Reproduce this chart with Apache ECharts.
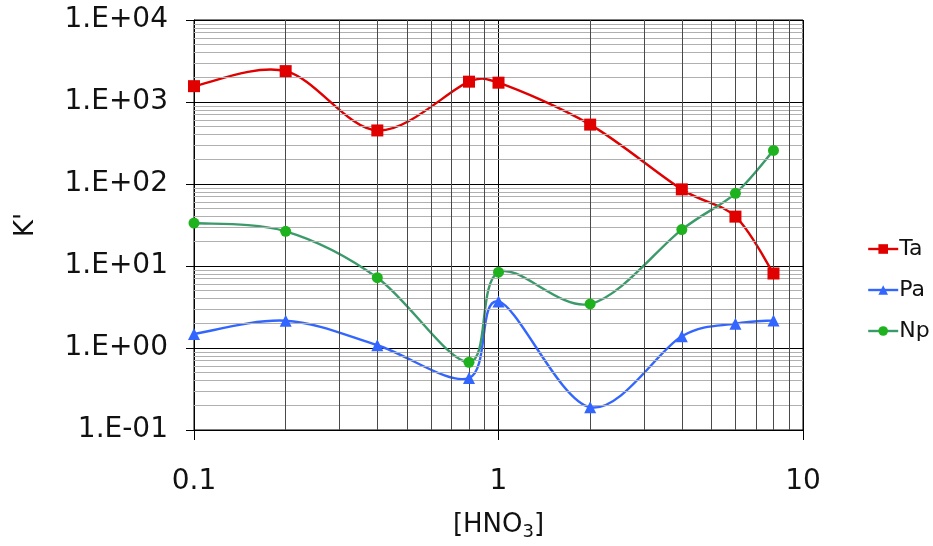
<!DOCTYPE html>
<html>
<head>
<meta charset="utf-8">
<script src="https://cdn.jsdelivr.net/npm/echarts@6/dist/echarts.min.js"></script>
<style>
  html, body { margin: 0; padding: 0; background: #fff; }
  #chart { width: 933px; height: 546px; }
</style>
</head>
<body>
<div id="chart"></div>
<script>
// Nitric acid concentration (x) and distribution ratio K' (y) per element
const hno3 = [0.1, 0.2, 0.4, 0.8, 1, 2, 4, 6, 8];
const ta = [1560, 2380, 450, 1770, 1720, 530, 86, 40, 8.1];
const pa = [1.48, 2.15, 1.08, 0.43, 3.7, 0.19, 1.39, 1.98, 2.17];
const np = [33.4, 26.5, 7.2, 0.67, 8.4, 3.45, 27.8, 77, 257];

const seriesNames = ['Ta', 'Pa', 'Np'];
const xRange = [0.1, 10];
const yRange = [0.1, 10000];

const FONT = 'DejaVu Sans';
const COLORS = {
  Ta: { line: '#e00000', mark: '#e00000', symbol: 'rect', size: 12 },
  Pa: { line: '#3366ff', mark: '#3366ff', symbol: 'triangle', size: 12 },
  Np: { line: '#3a9a6a', mark: '#1fb21f', symbol: 'circle', size: 11 }
};
const LINE_W = 2.4;

// Intermediate log-grid positions (2..9 within each decade)
function minorSteps(lo, hi) {
  const out = [];
  for (let d = lo; d < hi - 1e-12; d *= 10) {
    for (let k = 2; k <= 9; k++) out.push(+(d * k).toPrecision(6));
  }
  return out;
}
const xMinor = minorSteps(xRange[0], xRange[1]);
const yMinor = minorSteps(yRange[0], yRange[1]);

function pairs(ys) { return hno3.map((x, i) => [x, ys[i]]); }

function sciLabel(v) {
  const e = Math.round(Math.log10(v));
  const s = e < 0 ? '-' : '+';
  const a = Math.abs(e);
  return '1.E' + s + (a < 10 ? '0' + a : a);
}

// Limit a control handle to a fraction of the segment chord
function limitHandle(t, chord) {
  const len = Math.hypot(t[0], t[1]);
  const maxLen = 0.45 * chord;
  if (len > maxLen && len > 0) {
    const k = maxLen / len;
    return [t[0] * k, t[1] * k];
  }
  return t;
}

// Smoothed connecting curve: cardinal cubic segments in screen space,
// each segment i -> i+1 computed from the axis-mapped neighbouring points.
function curveSeries(name, ys) {
  const n = hno3.length;
  const color = COLORS[name].line;
  return {
    name: name + ' curve',
    type: 'custom',
    z: 4,
    silent: true,
    data: pairs(ys),
    encode: { x: 0, y: 1 },
    renderItem: function (params, api) {
      const i = params.dataIndex;
      if (i >= n - 1) return null;
      const P = j => {
        const k = Math.max(0, Math.min(n - 1, j));
        return api.coord([hno3[k], ys[k]]);
      };
      const p0 = P(i - 1), p1 = P(i), p2 = P(i + 1), p3 = P(i + 2);
      const chord = Math.hypot(p2[0] - p1[0], p2[1] - p1[1]);
      const t1 = limitHandle([(p2[0] - p0[0]) / 6, (p2[1] - p0[1]) / 6], chord);
      const t2 = limitHandle([(p3[0] - p1[0]) / 6, (p3[1] - p1[1]) / 6], chord);
      return {
        type: 'bezierCurve',
        shape: {
          x1: p1[0], y1: p1[1], x2: p2[0], y2: p2[1],
          cpx1: p1[0] + t1[0], cpy1: p1[1] + t1[1],
          cpx2: p2[0] - t2[0], cpy2: p2[1] - t2[1]
        },
        style: { stroke: color, lineWidth: LINE_W, fill: null, lineCap: 'round' }
      };
    }
  };
}

function markerSeries(name, ys) {
  const c = COLORS[name];
  return {
    name: name, type: 'line', z: 6,
    data: pairs(ys),
    symbol: c.symbol, symbolSize: c.size,
    itemStyle: { color: c.mark },
    lineStyle: { color: c.line, width: LINE_W, opacity: 0 }
  };
}

const chart = echarts.init(document.getElementById('chart'), null, { renderer: 'canvas' });

chart.setOption({
  animation: false,
  backgroundColor: '#fff',
  textStyle: { fontFamily: FONT, color: '#111' },
  grid: {
    left: 194, right: 130, top: 20, bottom: 112,
    show: true, borderColor: '#000', borderWidth: 1, backgroundColor: 'transparent'
  },
  legend: {
    data: seriesNames.map(nm => ({
      name: nm,
      lineStyle: { color: COLORS[nm].line, width: LINE_W, opacity: 1 }
    })),
    orient: 'vertical',
    left: 862, top: 233,
    itemWidth: 30, itemHeight: 12, itemGap: 19,
    textStyle: { fontFamily: FONT, fontSize: 22, color: '#111', padding: [0, 0, 0, -4] }
  },
  xAxis: {
    type: 'log', logBase: 10, min: xRange[0], max: xRange[1],
    name: '[HNO{sub|3}]',
    nameLocation: 'middle', nameGap: 79,
    nameTextStyle: {
      fontFamily: FONT, fontSize: 26, color: '#111',
      rich: { sub: { fontFamily: FONT, fontSize: 18, color: '#111', padding: [14, 0, 0, 0] } }
    },
    axisLine: { show: true, lineStyle: { color: '#000', width: 1 } },
    axisTick: { show: true, inside: false, length: 10, lineStyle: { color: '#000' } },
    axisLabel: { fontFamily: FONT, fontSize: 28, color: '#111', margin: 38 },
    splitLine: { show: true, lineStyle: { color: '#000', width: 1 } }
  },
  yAxis: {
    type: 'log', logBase: 10, min: yRange[0], max: yRange[1],
    name: "K'",
    nameLocation: 'middle', nameGap: 155, nameRotate: 90,
    nameTextStyle: { fontFamily: FONT, fontSize: 26, color: '#111' },
    axisLine: { show: true, lineStyle: { color: '#000', width: 1 } },
    axisTick: { show: true, inside: false, length: 8, lineStyle: { color: '#000' } },
    axisLabel: { fontFamily: FONT, fontSize: 28, color: '#111', margin: 26, formatter: sciLabel },
    splitLine: { show: true, lineStyle: { color: '#000', width: 1 } }
  },
  series: [
    {
      // minor log grid drawn through the axes' own scales
      name: 'grid-minor',
      type: 'line',
      data: [],
      silent: true,
      z: 1,
      markLine: {
        silent: true,
        symbol: ['none', 'none'],
        label: { show: false },
        animation: false,
        data: [
          ...yMinor.map(v => ({ yAxis: v, lineStyle: { color: '#b0b0b0', width: 1, type: 'solid' } })),
          ...xMinor.map(v => ({ xAxis: v, lineStyle: { color: '#4a4a4a', width: 1, type: 'solid' } }))
        ]
      }
    },
    curveSeries('Ta', ta),
    curveSeries('Pa', pa),
    curveSeries('Np', np),
    markerSeries('Ta', ta),
    markerSeries('Pa', pa),
    markerSeries('Np', np)
  ]
});
</script>
</body>
</html>
